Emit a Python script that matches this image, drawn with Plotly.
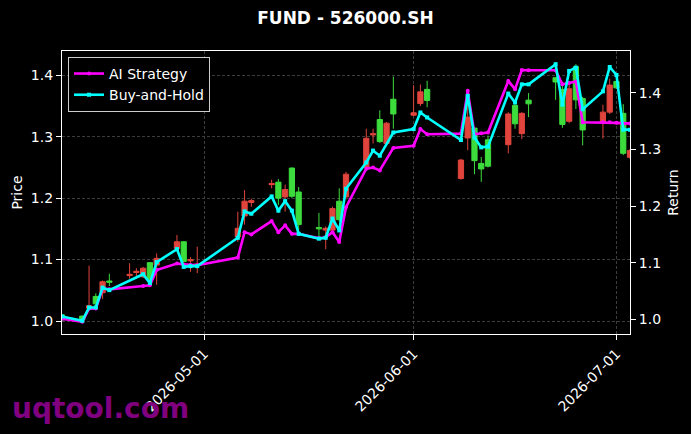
import plotly.graph_objects as go

# ---- candle data (price axis) ----
candle_dates = [
    "2026-04-10", "2026-04-13", "2026-04-14", "2026-04-15", "2026-04-16", "2026-04-17",
    "2026-04-20", "2026-04-21", "2026-04-22", "2026-04-23", "2026-04-24", "2026-04-27",
    "2026-04-28", "2026-04-29", "2026-04-30", "2026-05-06", "2026-05-07", "2026-05-08",
    "2026-05-11", "2026-05-12", "2026-05-13", "2026-05-14", "2026-05-15", "2026-05-18",
    "2026-05-19", "2026-05-20", "2026-05-21", "2026-05-22", "2026-05-25", "2026-05-26",
    "2026-05-27", "2026-05-28", "2026-05-29", "2026-06-01", "2026-06-02", "2026-06-03",
    "2026-06-08", "2026-06-09", "2026-06-10", "2026-06-11", "2026-06-12", "2026-06-15",
    "2026-06-16", "2026-06-17", "2026-06-18", "2026-06-22", "2026-06-23", "2026-06-24",
    "2026-06-25", "2026-06-26", "2026-06-29", "2026-06-30", "2026-07-01", "2026-07-02",
    "2026-07-03",
]
open_ = [1.002, 1.002, 1.025, 1.028, 1.064, 1.063, 1.076, 1.081, 1.086, 1.067, 1.102, 1.129,
         1.097, 1.100, 1.093, 1.151, 1.195, 1.196, 1.224, 1.200, 1.214, 1.203, 1.157, 1.150,
         1.151, 1.183, 1.165, 1.239, 1.2975, 1.305, 1.292, 1.322, 1.337, 1.339, 1.373, 1.359,
         1.262, 1.332, 1.261, 1.2475, 1.252, 1.337, 1.321, 1.338, 1.3535, 1.389, 1.320, 1.378,
         1.360, 1.311, 1.340, 1.384, 1.3795, 1.273, 1.2775]
high = [1.011, 1.009, 1.090, 1.045, 1.066, 1.077, 1.094, 1.086, 1.088, 1.096, 1.110, 1.140,
        1.130, 1.104, 1.121, 1.178, 1.213, 1.199, 1.230, 1.231, 1.222, 1.250, 1.218, 1.176,
        1.154, 1.186, 1.216, 1.243, 1.313, 1.313, 1.343, 1.324, 1.398, 1.384, 1.385, 1.391,
        1.264, 1.377, 1.316, 1.267, 1.302, 1.340, 1.353, 1.340, 1.371, 1.397, 1.388, 1.385,
        1.418, 1.365, 1.352, 1.3945, 1.392, 1.353, 1.280]
low = [1.000, 1.000, 1.020, 1.025, 1.036, 1.057, 1.069, 1.073, 1.070, 1.063, 1.059, 1.116,
       1.095, 1.080, 1.078, 1.129, 1.157, 1.186, 1.216, 1.189, 1.178, 1.200, 1.143, 1.135,
       1.117, 1.146, 1.162, 1.198, 1.248, 1.289, 1.290, 1.287, 1.313, 1.333, 1.350, 1.348,
       1.230, 1.278, 1.239, 1.2266, 1.250, 1.273, 1.313, 1.296, 1.332, 1.360, 1.3145, 1.322,
       1.345, 1.286, 1.297, 1.337, 1.378, 1.270, 1.264]
close = [1.010, 1.008, 1.021, 1.040, 1.046, 1.065, 1.074, 1.079, 1.072, 1.095, 1.091, 1.118,
         1.129, 1.098, 1.090, 1.137, 1.171, 1.193, 1.222, 1.226, 1.202, 1.249, 1.210, 1.152,
         1.148, 1.148, 1.195, 1.202, 1.250, 1.303, 1.328, 1.289, 1.361, 1.335, 1.354, 1.377,
         1.232, 1.298, 1.314, 1.2565, 1.295, 1.287, 1.351, 1.305, 1.3595, 1.396, 1.377, 1.325,
         1.414, 1.362, 1.3235, 1.340, 1.390, 1.338, 1.2665]

# ---- strategy curves (return axis) ----
line_dates = [
    "2026-04-10", "2026-04-13", "2026-04-14", "2026-04-15", "2026-04-16", "2026-04-17",
    "2026-04-22", "2026-04-23", "2026-04-24", "2026-04-27", "2026-04-28", "2026-04-29",
    "2026-04-30", "2026-05-06", "2026-05-07", "2026-05-08", "2026-05-11", "2026-05-12",
    "2026-05-13", "2026-05-14", "2026-05-15", "2026-05-18", "2026-05-19", "2026-05-20",
    "2026-05-21", "2026-05-22", "2026-05-25", "2026-05-26", "2026-05-27", "2026-05-29",
    "2026-06-01", "2026-06-02", "2026-06-03", "2026-06-08", "2026-06-09", "2026-06-10",
    "2026-06-11", "2026-06-12", "2026-06-15", "2026-06-16", "2026-06-17", "2026-06-18",
    "2026-06-22", "2026-06-23", "2026-06-24", "2026-06-25", "2026-06-26", "2026-06-29",
    "2026-06-30", "2026-07-01", "2026-07-02", "2026-07-03",
]
ai_strategy = [1.001, 0.9958, 1.019, 1.019, 1.0545, 1.053, 1.059, 1.060, 1.087, 1.0985, 1.097,
               1.096, 1.0955, 1.109, 1.154, 1.150, 1.1735, 1.154, 1.166, 1.151, 1.151, 1.143,
               1.145, 1.154, 1.1365, 1.198, 1.266, 1.268, 1.263, 1.3027, 1.3067, 1.336, 1.327,
               1.328, 1.4035, 1.327, 1.3287, 1.330, 1.421, 1.4065, 1.4404, 1.440, 1.440, 1.415,
               1.4175, 1.420, 1.348, 1.348, 1.348, 1.347, 1.346, 1.346]
buy_hold = [1.005, 0.9975, 1.021, 1.021, 1.056, 1.0516, 1.0797, 1.064, 1.101, 1.124, 1.0926,
            1.094, 1.094, 1.144, 1.1906, 1.1865, 1.217, 1.192, 1.2087, 1.192, 1.151, 1.1425,
            1.144, 1.178, 1.157, 1.2305, 1.277, 1.298, 1.289, 1.330, 1.336, 1.3653, 1.3565,
            1.3167, 1.3947, 1.321, 1.3037, 1.305, 1.3987, 1.383, 1.415, 1.415, 1.4505, 1.379,
            1.4387, 1.4445, 1.371, 1.4026, 1.4457, 1.4316, 1.335, 1.335]

price_ticks = [1.0, 1.1, 1.2, 1.3, 1.4]
return_ticks = [1.0, 1.1, 1.2, 1.3, 1.4]
date_ticks = ["2026-05-01", "2026-06-01", "2026-07-01"]

UP = "#3ddc3d"
DOWN = "#e0443c"
FONT = "DejaVu Sans"
GRID = "#3c3c3c"

fig = go.Figure()
fig.add_trace(go.Candlestick(
    x=candle_dates, open=open_, high=high, low=low, close=close,
    increasing=dict(line=dict(color=UP, width=1), fillcolor=UP),
    decreasing=dict(line=dict(color=DOWN, width=1), fillcolor=DOWN),
    whiskerwidth=0, showlegend=False, yaxis="y", hoverinfo="skip",
))
fig.add_trace(go.Scatter(
    x=line_dates, y=ai_strategy, name="AI Strategy", yaxis="y2",
    mode="lines+markers", line=dict(color="#ff00ff", width=2.6),
    marker=dict(symbol="circle", size=4, color="#ff00ff"),
))
fig.add_trace(go.Scatter(
    x=line_dates, y=buy_hold, name="Buy-and-Hold", yaxis="y2",
    mode="lines+markers", line=dict(color="#00ffff", width=2.6),
    marker=dict(symbol="square", size=4, color="#00ffff"),
))

fig.update_layout(
    width=691, height=434,
    margin=dict(l=62, r=61, t=51, b=100, autoexpand=False),
    paper_bgcolor="black", plot_bgcolor="black",
    font=dict(family=FONT, color="white", size=14),
    boxgap=0.12, boxgroupgap=0.12,
    title=dict(text="FUND - 526000.SH", x=0.5, xanchor="center", y=1 - 18 / 434,
               yanchor="middle", font=dict(family=FONT, size=17, color="white", weight="bold")),
    xaxis=dict(
        type="date", range=["2026-04-10", "2026-07-03"], automargin=False,
        tickvals=date_ticks, tickformat="%Y-%m-%d", tickangle=-45,
        showgrid=True, gridcolor=GRID, gridwidth=0.6, griddash="3px,2px",
        showline=True, linecolor="white", linewidth=1.3, mirror=True,
        ticks="outside", ticklen=5, tickcolor="white", tickwidth=1,
        rangeslider=dict(visible=False), zeroline=False,
        tickfont=dict(size=14, color="white"),
    ),
    yaxis=dict(
        title=dict(text="Price", font=dict(size=14, color="white"), standoff=4),
        automargin=False,
        range=[0.9789, 1.4395], tickvals=price_ticks, tickformat=".1f",
        showgrid=True, gridcolor=GRID, gridwidth=0.6, griddash="3px,2px",
        showline=True, linecolor="white", linewidth=1.3, mirror=True,
        ticks="outside", ticklen=5, tickcolor="white", zeroline=False,
        tickfont=dict(size=14, color="white"),
    ),
    yaxis2=dict(
        title=dict(text="Return", font=dict(size=14, color="white"), standoff=8),
        automargin=False,
        overlaying="y", side="right",
        range=[0.9741, 1.4739], tickvals=return_ticks, tickformat=".1f",
        showgrid=False, showline=False, zeroline=False,
        ticks="outside", ticklen=5, tickcolor="white",
        tickfont=dict(size=14, color="white"),
    ),
    legend=dict(
        x=0.0106, y=0.979, xanchor="left", yanchor="top",
        bgcolor="black", bordercolor="#cccccc", borderwidth=1,
        font=dict(size=14, color="white"), tracegroupgap=0, itemwidth=30,
    ),
    showlegend=True,
)

fig.add_annotation(
    text="uqtool.com", xref="paper", yref="paper",
    x=(10 - 62) / 568, y=(334 - 408) / 283, xanchor="left", yanchor="middle",
    showarrow=False, font=dict(family=FONT, size=28, color="#800080", weight="bold"),
)

fig.write_html("out.html")
